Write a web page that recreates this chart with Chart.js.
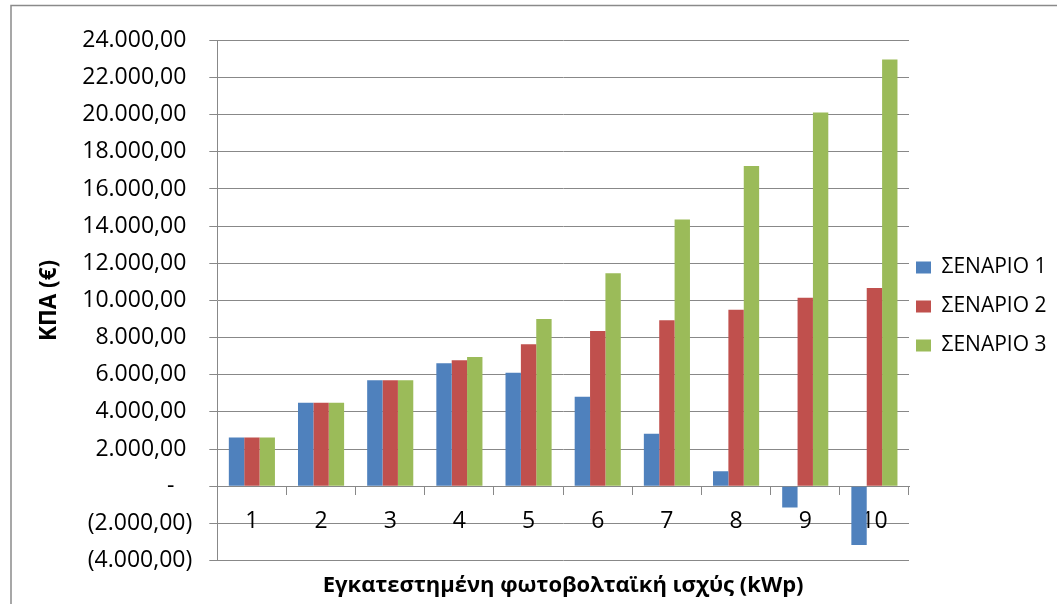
<!DOCTYPE html>
<html>
<head>
<meta charset="utf-8">
<script src="https://cdn.jsdelivr.net/npm/chart.js@4.4.1/dist/chart.umd.min.js"></script>
<style>
  html, body { margin: 0; padding: 0; background: #fff; }
  #wrap { position: relative; width: 1057px; height: 604px; }
</style>
</head>
<body>
<div id="wrap"><canvas id="c" width="1057" height="604"></canvas></div>
<script>
// Installed PV power (kWp) on the category axis
const categories = ['1', '2', '3', '4', '5', '6', '7', '8', '9', '10'];

// Net present value (€) per scenario
const scenario1 = [2620, 4500, 5700, 6620, 6110, 4820, 2820, 810, -1140, -3160];
const scenario2 = [2620, 4500, 5700, 6780, 7640, 8350, 8930, 9500, 10150, 10670];
const scenario3 = [2620, 4500, 5700, 6960, 9000, 11470, 14360, 17230, 20120, 22970];

const seriesNames = ['ΣΕΝΑΡΙΟ 1', 'ΣΕΝΑΡΙΟ 2', 'ΣΕΝΑΡΙΟ 3'];

const yTickValues = [-4000, -2000, 0, 2000, 4000, 6000, 8000, 10000, 12000, 14000, 16000, 18000, 20000, 22000, 24000];
const yTickLabels = ['(4.000,00)', '(2.000,00)', '-', '2.000,00', '4.000,00', '6.000,00', '8.000,00',
  '10.000,00', '12.000,00', '14.000,00', '16.000,00', '18.000,00', '20.000,00', '22.000,00', '24.000,00'];

const yTitle = 'ΚΠΑ (€)';
const xTitle = 'Εγκατεστημένη φωτοβολταϊκή ισχύς (kWp)';

const GRID = '#888888';
const FONT = "'Open Sans', 'Noto Sans', sans-serif";

Chart.defaults.font.family = FONT;
Chart.defaults.color = '#000';

// Accounting-style alignment: positives leave room for the closing parenthesis
function formatTick(value) {
  const i = yTickValues.indexOf(value);
  if (i < 0) return '';
  const s = yTickLabels[i];
  if (s.startsWith('(')) return s;
  if (s === '-') return s + '   ';
  return s + ' ';
}

// White background, outer frame, and legend nudge
const framePlugin = {
  id: 'frame',
  beforeDraw(chart) {
    const ctx = chart.ctx;
    ctx.save();
    ctx.fillStyle = '#fff';
    ctx.fillRect(0, 0, chart.width, chart.height);
    ctx.strokeStyle = '#8a8a8a';
    ctx.lineWidth = 1.5;
    ctx.strokeRect(11, 5.5, chart.width + 40, chart.height + 40);
    ctx.restore();
  },
  afterLayout(chart) {
    const lg = chart.legend;
    if (lg) {
      lg.left -= 11; lg.right -= 11;
      lg.top += 6; lg.bottom += 6;
    }
  }
};

new Chart(document.getElementById('c'), {
  type: 'bar',
  data: {
    labels: categories,
    datasets: [
      { label: seriesNames[0], data: scenario1, backgroundColor: '#4F81BD' },
      { label: seriesNames[1], data: scenario2, backgroundColor: '#C0504D' },
      { label: seriesNames[2], data: scenario3, backgroundColor: '#9BBB59' }
    ]
  },
  options: {
    responsive: false,
    animation: false,
    devicePixelRatio: 1,
    datasets: {
      bar: { categoryPercentage: 2 / 3, barPercentage: 1, borderWidth: 0 }
    },
    layout: { padding: { top: 40.3, left: 0, right: 0, bottom: 0 } },
    scales: {
      x: {
        position: { y: 0 },
        offset: true,
        grid: { offset: true, drawOnChartArea: false, drawTicks: true, tickLength: 8, color: GRID, lineWidth: 1 },
        border: { display: true, color: GRID, width: 1 },
        ticks: { color: '#000', font: { size: 23 }, padding: 13, maxRotation: 0, autoSkip: false },
        afterFit(scale) { scale.height = 0; }
      },
      y: {
        position: 'left',
        min: -4000,
        max: 24000,
        ticks: { stepSize: 2000, callback: formatTick, color: '#000', font: { size: 23 }, padding: 17 },
        grid: { color: GRID, lineWidth: 1, tickLength: 8 },
        border: { display: true, color: GRID, width: 1 },
        title: {
          display: true, text: yTitle, color: '#000',
          font: { size: 22.5, weight: 'bold' },
          padding: { top: 36.5, bottom: 0 }
        },
        afterFit(scale) { scale.width = 217.3; }
      }
    },
    plugins: {
      legend: {
        position: 'right',
        fullSize: false,
        maxWidth: 148,
        labels: { boxWidth: 15, boxHeight: 12, padding: 18, color: '#000', font: { size: 21 } }
      },
      title: {
        display: true,
        position: 'bottom',
        fullSize: false,
        text: xTitle,
        color: '#000',
        font: { size: 22, weight: 'bold' },
        padding: { top: 12, bottom: 5 }
      },
      tooltip: { enabled: false }
    }
  },
  plugins: [framePlugin]
});
</script>
</body>
</html>
